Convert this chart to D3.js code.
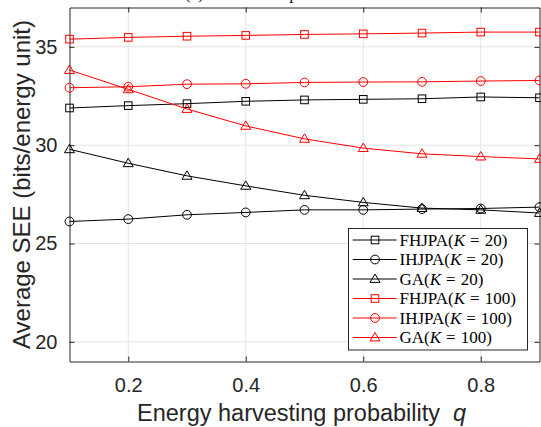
<!DOCTYPE html>
<html>
<head>
<meta charset="utf-8">
<script src="https://cdn.jsdelivr.net/npm/d3@7"></script>
<style>
  html, body { margin: 0; padding: 0; background: #fff; }
  svg { display: block; }
</style>
</head>
<body>
<svg id="chart" width="541" height="427"></svg>
<script>
// Energy harvesting probability q
const qValues = [0.1, 0.2, 0.3, 0.4, 0.5, 0.6, 0.7, 0.8, 0.9];

// Average SEE (bits/energy unit) per scheme
const fhjpaK20  = [31.89, 32.01, 32.11, 32.23, 32.30, 32.33, 32.36, 32.45, 32.41];
const ihjpaK20  = [26.12, 26.24, 26.46, 26.58, 26.71, 26.71, 26.75, 26.78, 26.85];
const gaK20     = [29.79, 29.08, 28.44, 27.93, 27.45, 27.09, 26.80, 26.71, 26.55];
const fhjpaK100 = [35.39, 35.48, 35.54, 35.58, 35.63, 35.66, 35.70, 35.75, 35.75];
const ihjpaK100 = [32.92, 32.97, 33.10, 33.12, 33.19, 33.21, 33.22, 33.26, 33.29];
const gaK100    = [33.82, 32.84, 31.84, 30.98, 30.32, 29.85, 29.56, 29.42, 29.30];

const xTicks = [0.2, 0.4, 0.6, 0.8];
const yTicks = [20, 25, 30, 35];

const seriesNames = ["FHJPA", "IHJPA", "GA", "FHJPA", "IHJPA", "GA"];
const seriesK     = [20, 20, 20, 100, 100, 100];
const seriesData  = [fhjpaK20, ihjpaK20, gaK20, fhjpaK100, ihjpaK100, gaK100];
const seriesMark  = ["square", "circle", "triangle", "square", "circle", "triangle"];
const seriesColor = ["#000000", "#000000", "#000000", "#ff0000", "#ff0000", "#ff0000"];

const svg = d3.select("#chart");
const plotL = 69.5, plotR = 539.5, plotT = 7.5, plotB = 361.5;

const x = d3.scaleLinear().domain([0.1, 0.9]).range([plotL, plotR]);
const y = d3.scaleLinear().domain([19, 37]).range([plotB, plotT]);

const axisColor = "#262626";
const gridColor = "#e3e3e3";
const tickFont = "'Liberation Sans', Arial, sans-serif";
const serifFont = "'Liberation Serif', 'Times New Roman', serif";

// Title (sits above the plot box)
svg.append("text")
  .attr("x", 185).attr("y", -1)
  .attr("font-family", serifFont).attr("font-size", 16)
  .attr("fill", "#000")
  .text("(b) SEE versus q for different K");

// Grid
const grid = svg.append("g");
grid.selectAll("line.gx").data(xTicks).join("line")
  .attr("x1", d => x(d)).attr("x2", d => x(d))
  .attr("y1", plotT).attr("y2", plotB)
  .attr("stroke", gridColor).attr("stroke-width", 1);
grid.selectAll("line.gy").data(yTicks).join("line")
  .attr("x1", plotL).attr("x2", plotR)
  .attr("y1", d => y(d)).attr("y2", d => y(d))
  .attr("stroke", gridColor).attr("stroke-width", 1);

// Axes with inward ticks on all four sides
const tl = 5;
const axB = svg.append("g").attr("transform", `translate(0,${plotB})`)
  .call(d3.axisBottom(x).tickValues(xTicks).tickSizeInner(-tl).tickSizeOuter(0).tickPadding(16).tickFormat(d3.format(".1f")));
const axT = svg.append("g").attr("transform", `translate(0,${plotT})`)
  .call(d3.axisTop(x).tickValues(xTicks).tickSizeInner(-tl).tickSizeOuter(0).tickFormat(""));
const axL = svg.append("g").attr("transform", `translate(${plotL},0)`)
  .call(d3.axisLeft(y).tickValues(yTicks).tickSizeInner(-tl).tickSizeOuter(0).tickPadding(12).tickFormat(d3.format("d")));
const axR = svg.append("g").attr("transform", `translate(${plotR},0)`)
  .call(d3.axisRight(y).tickValues(yTicks).tickSizeInner(-tl).tickSizeOuter(0).tickFormat(""));

[axB, axT, axL, axR].forEach(g => {
  g.select(".domain").attr("stroke", axisColor).attr("stroke-width", 1);
  g.selectAll(".tick line").attr("stroke", axisColor).attr("stroke-width", 1);
  g.selectAll(".tick text")
    .attr("font-family", tickFont).attr("font-size", 20).attr("fill", "#262626");
});

// Axis labels
svg.append("text")
  .attr("x", 137).attr("y", 421)
  .attr("text-anchor", "start")
  .attr("font-family", tickFont).attr("font-size", 23.5).attr("fill", "#262626")
  .call(t => {
    t.append("tspan").text("Energy harvesting probability");
    t.append("tspan").attr("dx", 13).attr("font-style", "italic").text("q");
  });

svg.append("text")
  .attr("transform", `translate(30,${(plotT + plotB) / 2}) rotate(-90)`)
  .attr("text-anchor", "middle")
  .attr("font-family", tickFont).attr("font-size", 24).attr("fill", "#262626")
  .text("Average SEE (bits/energy unit)");

// Marker drawing
function drawMarker(g, type, cx, cy, color) {
  if (type === "square") {
    g.append("rect").attr("x", cx - 3.8).attr("y", cy - 3.8)
      .attr("width", 7.6).attr("height", 7.6)
      .attr("fill", "none").attr("stroke", color).attr("stroke-width", 1);
  } else if (type === "circle") {
    g.append("circle").attr("cx", cx).attr("cy", cy).attr("r", 4.4)
      .attr("fill", "none").attr("stroke", color).attr("stroke-width", 1);
  } else {
    const h = 8.4, w = 10;
    g.append("path")
      .attr("d", `M${cx},${cy - h / 2 - 0.8}L${cx + w / 2},${cy + h / 2 - 0.8}L${cx - w / 2},${cy + h / 2 - 0.8}Z`)
      .attr("fill", "none").attr("stroke", color).attr("stroke-width", 1);
  }
}

// Series
const line = d3.line().x((d, i) => x(qValues[i])).y(d => y(d));
seriesData.forEach((vals, s) => {
  const g = svg.append("g");
  g.append("path").datum(vals)
    .attr("d", line)
    .attr("fill", "none").attr("stroke", seriesColor[s]).attr("stroke-width", 1);
  vals.forEach((v, i) => drawMarker(g, seriesMark[s], x(qValues[i]), y(v), seriesColor[s]));
});

// Legend
const lg = svg.append("g");
const lgX = 348.5, lgY = 228.5, lgW = 179, lgH = 121.5;
lg.append("rect").attr("x", lgX).attr("y", lgY).attr("width", lgW).attr("height", lgH)
  .attr("fill", "#fff").attr("stroke", axisColor).attr("stroke-width", 1);
seriesData.forEach((vals, s) => {
  const ry = 240 + s * 19.5;
  lg.append("line").attr("x1", 352.7).attr("x2", 396.7).attr("y1", ry).attr("y2", ry)
    .attr("stroke", seriesColor[s]).attr("stroke-width", 1);
  drawMarker(lg, seriesMark[s], 375, ry, seriesColor[s]);
  const t = lg.append("text").attr("x", 399.5).attr("y", ry + 5.5)
    .attr("font-family", serifFont).attr("font-size", 17).attr("fill", "#000");
  t.append("tspan").text(seriesNames[s] + "(");
  t.append("tspan").attr("font-style", "italic").text("K");
  t.append("tspan").attr("dx", 5).text("=");
  t.append("tspan").attr("dx", 5).text(seriesK[s] + ")");
});
</script>
</body>
</html>
